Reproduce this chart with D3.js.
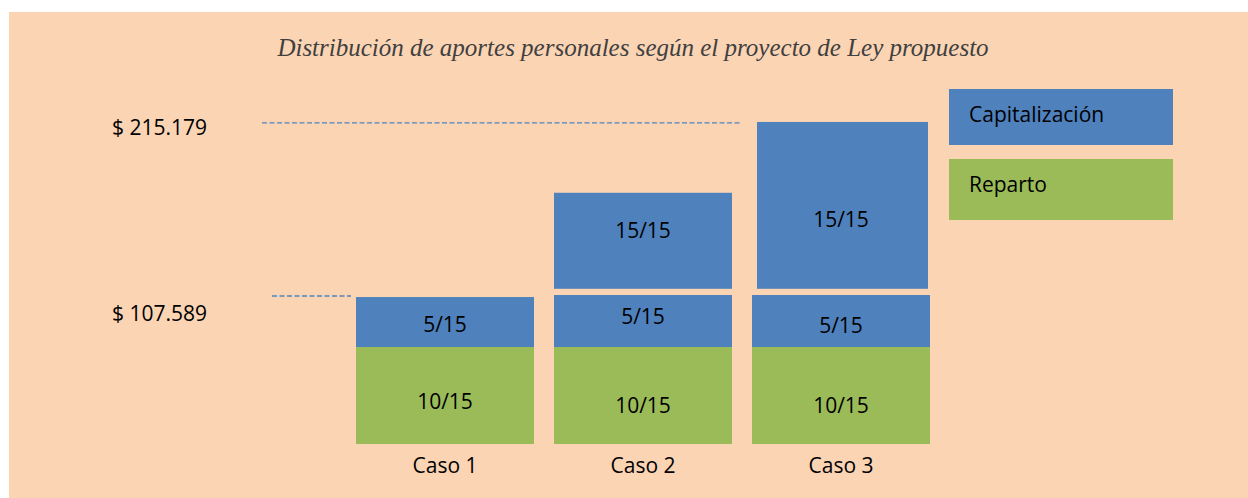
<!DOCTYPE html>
<html>
<head>
<meta charset="utf-8">
<script src="https://cdn.jsdelivr.net/npm/d3@7"></script>
<style>
  body { margin: 0; background: #fff; }
  svg text { font-family: "Open Sans", "Noto Sans", sans-serif; }
</style>
</head>
<body>
<svg id="chart" width="1248" height="498"></svg>
<script>
// DATA
const cases = ["Caso 1", "Caso 2", "Caso 3"];
const series = ["Capitalización", "Reparto"];
// stacked blocks, heights in diagram units (not to scale, as in the original)
const repartoBlocks = [[0, 10], [0, 10], [0, 10]];
const capBlocks = [[10, 15.15], [10, 15.36], [10, 15.36]];
const upperBlocks = [null, [16, 25.9], [16, 33.2]];
const repartoLabels = ["10/15", "10/15", "10/15"];
const capLabels = ["5/15", "5/15", "5/15"];
const upperLabels = [null, "15/15", "15/15"];
const levelLabels = ["$ 215.179", "$ 107.589"];
const levelValues = [33.1, 15.26];
const levelLabelAt = [32.4, 13.3];

const svg = d3.select("#chart"),
    width = +svg.attr("width"),
    height = +svg.attr("height");

const blue = "#4f81bd", green = "#9bbb59", peach = "#fbd4b4";
const fontSize = "21px";

svg.append("rect")
    .attr("x", 9).attr("y", 12)
    .attr("width", width - 9).attr("height", height - 12)
    .attr("fill", peach);

const x = d3.scaleBand()
    .domain(cases)
    .range([356, 930])
    .paddingInner(0.101)
    .paddingOuter(0);

const y = d3.scaleLinear()
    .domain([0, 10])
    .range([444, 347]);

// title
svg.append("text")
    .attr("x", 633)
    .attr("y", 56)
    .attr("text-anchor", "middle")
    .style("font-family", "'Liberation Serif', 'DejaVu Serif', serif")
    .style("font-style", "italic")
    .style("font-size", "25px")
    .attr("fill", "#404040")
    .text("Distribución de aportes personales según el proyecto de Ley propuesto");

// dashed reference lines
const dashX = [[262, 740], [272, 351]];
svg.selectAll("line.ref").data(levelValues)
    .join("line")
    .attr("class", "ref")
    .attr("x1", (d, i) => dashX[i][0])
    .attr("x2", (d, i) => dashX[i][1])
    .attr("y1", d => y(d))
    .attr("y2", d => y(d))
    .attr("stroke", blue)
    .attr("stroke-width", 1.3)
    .attr("stroke-dasharray", "5,2.5");

svg.selectAll("text.level").data(levelLabelAt)
    .join("text")
    .attr("class", "level")
    .attr("x", 112)
    .attr("y", d => y(d))
    .attr("dominant-baseline", "middle")
    .style("font-size", fontSize)
    .attr("fill", "#000")
    .text((d, i) => levelLabels[i]);

// blocks
function drawBlocks(blocks, labels, color, cls, inset) {
    const items = cases.map((c, i) => ({ c, b: blocks[i], label: labels[i], i }))
        .filter(d => d.b);
    svg.selectAll("rect." + cls).data(items)
        .join("rect")
        .attr("class", cls)
        .attr("x", d => x(d.c) + (inset ? inset[d.i][0] : 0))
        .attr("width", d => x.bandwidth() - (inset ? inset[d.i][0] + inset[d.i][1] : 0))
        .attr("y", d => y(d.b[1]))
        .attr("height", d => y(d.b[0]) - y(d.b[1]))
        .attr("fill", color);
    return items;
}

const rep = drawBlocks(repartoBlocks, repartoLabels, green, "rep");
const cap = drawBlocks(capBlocks, capLabels, blue, "cap");
const up = drawBlocks(upperBlocks, upperLabels, blue, "up", [[0, 0], [0, 0], [5, 2]]);

// label positions inside blocks (diagram units)
const repLabelAt = [4.2, 3.8, 3.8];
const capLabelAt = [12.1, 13.0, 12.0];
const upLabelAt = [null, 21.8, 23.0];

function drawLabels(items, at, cls) {
    svg.selectAll("text." + cls).data(items)
        .join("text")
        .attr("class", cls)
        .attr("x", d => x(d.c) + x.bandwidth() / 2)
        .attr("y", d => y(at[d.i]))
        .attr("text-anchor", "middle")
        .attr("dominant-baseline", "middle")
        .style("font-size", fontSize)
        .attr("fill", "#000")
        .text(d => d.label);
}
drawLabels(rep, repLabelAt, "repl");
drawLabels(cap, capLabelAt, "capl");
drawLabels(up, upLabelAt, "upl");

// category labels
svg.append("g")
    .attr("transform", "translate(0,444)")
    .call(d3.axisBottom(x).tickSize(0).tickPadding(14))
    .call(g => g.select(".domain").remove())
    .call(g => g.selectAll("text")
        .style("font-family", "'Open Sans', 'Noto Sans', sans-serif")
        .style("font-size", fontSize)
        .attr("fill", "#000"));

// legend
const legColors = [blue, green];
const legY = [[89, 145], [159, 220]];
const leg = svg.selectAll("g.leg").data(series)
    .join("g")
    .attr("class", "leg");
leg.append("rect")
    .attr("x", 949)
    .attr("width", 224)
    .attr("y", (d, i) => legY[i][0])
    .attr("height", (d, i) => legY[i][1] - legY[i][0])
    .attr("fill", (d, i) => legColors[i]);
leg.append("text")
    .attr("x", 969)
    .attr("y", (d, i) => legY[i][0] + 27)
    .attr("dominant-baseline", "middle")
    .style("font-size", fontSize)
    .attr("fill", "#000")
    .text(d => d);
</script>
</body>
</html>
